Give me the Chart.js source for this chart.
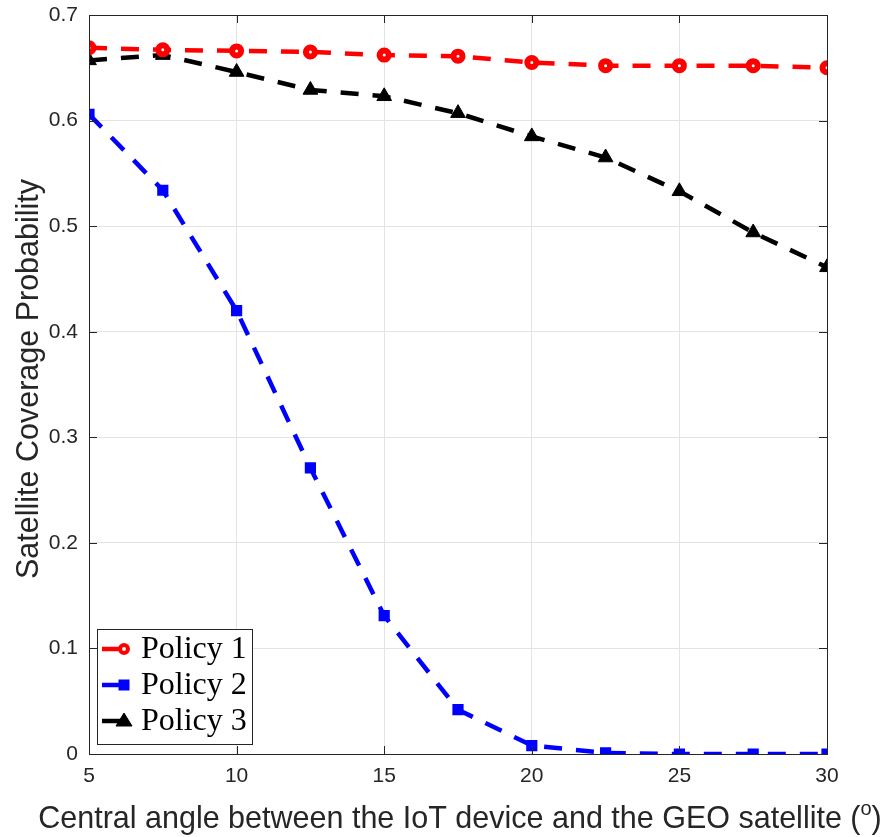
<!DOCTYPE html>
<html>
<head>
<meta charset="utf-8">
<script src="https://cdn.jsdelivr.net/npm/chart.js@4"></script>
<style>
  html, body { margin: 0; padding: 0; background: #fff; }
  #wrap { width: 889px; height: 837px; }
</style>
</head>
<body>
<div id="wrap"><canvas id="covChart" width="889" height="837"></canvas></div>
<script>
const angles = [5, 7.5, 10, 12.5, 15, 17.5, 20, 22.5, 25, 27.5, 30];
const policy1 = [0.669, 0.667, 0.666, 0.665, 0.662, 0.661, 0.655, 0.652, 0.652, 0.652, 0.650];
const policy2 = [0.606, 0.534, 0.420, 0.271, 0.131, 0.042, 0.008, 0.001, 0.000, 0.000, 0.000];
const policy3 = [0.657, 0.662, 0.646, 0.629, 0.623, 0.607, 0.585, 0.565, 0.533, 0.494, 0.461];
const xTicks = [5, 10, 15, 20, 25, 30];
const yTicks = [0, 0.1, 0.2, 0.3, 0.4, 0.5, 0.6, 0.7];
const seriesNames = ['Policy 1', 'Policy 2', 'Policy 3'];
const xTitle = 'Central angle between the IoT device and the GEO satellite (';
const yTitle = 'Satellite Coverage Probability';

const sansFont = 'Arial, "Liberation Sans", sans-serif';

function pts(ys) { return angles.map((a, i) => ({ x: a, y: ys[i] })); }

// box, inward ticks, axis titles and legend (MATLAB look)
const framePlugin = {
    id: 'frame',
    afterDatasetsDraw(chart) {
        const { ctx, chartArea: a, scales } = chart;
        ctx.save();
        ctx.strokeStyle = '#262626';
        ctx.lineWidth = 1;
        ctx.strokeRect(a.left + 0.5, a.top + 0.5, a.right - a.left, a.bottom - a.top);
        const len = 8;
        ctx.beginPath();
        xTicks.forEach(v => {
            const px = Math.round(scales.x.getPixelForValue(v)) + 0.5;
            ctx.moveTo(px, a.bottom); ctx.lineTo(px, a.bottom - len);
            ctx.moveTo(px, a.top); ctx.lineTo(px, a.top + len);
        });
        yTicks.forEach(v => {
            const py = Math.round(scales.y.getPixelForValue(v)) + 0.5;
            ctx.moveTo(a.left, py); ctx.lineTo(a.left + len, py);
            ctx.moveTo(a.right, py); ctx.lineTo(a.right - len, py);
        });
        ctx.stroke();

        // axis titles
        const big = '30.5px ' + sansFont, small = '20px ' + sansFont;
        ctx.fillStyle = '#262626';
        ctx.textBaseline = 'middle';
        ctx.font = big;
        const w1 = ctx.measureText(xTitle).width;
        const wp = ctx.measureText(')').width;
        ctx.font = small;
        const wo = ctx.measureText('o').width;
        let tx = 460 - (w1 + wo + wp) / 2;
        const ty = 820;
        ctx.textAlign = 'left';
        ctx.font = big;
        ctx.fillText(xTitle, tx, ty);
        tx += w1;
        ctx.font = small;
        ctx.fillText('o', tx, ty - 11);
        tx += wo;
        ctx.font = big;
        ctx.fillText(')', tx, ty);

        ctx.save();
        ctx.translate(30, 379);
        ctx.rotate(-Math.PI / 2);
        ctx.textAlign = 'center';
        ctx.fillText(yTitle, 0, 0);
        ctx.restore();

        // legend
        const lx = a.left + 8, ly = a.bottom - 125, lw = 155, lh = 115;
        ctx.fillStyle = '#fff';
        ctx.fillRect(lx, ly, lw, lh);
        ctx.strokeStyle = '#262626';
        ctx.lineWidth = 1;
        ctx.strokeRect(lx + 0.5, ly + 0.5, lw, lh);
        ctx.textAlign = 'left';
        ctx.font = '32px "Liberation Serif", "DejaVu Serif", serif';
        chart.data.datasets.forEach((ds, i) => {
            const cy = ly + 20 + i * 36;
            ctx.strokeStyle = ds.borderColor;
            ctx.lineWidth = 4.5;
            ctx.beginPath();
            ctx.moveTo(lx + 5, cy); ctx.lineTo(lx + 26, cy);
            ctx.stroke();
            ctx.fillStyle = ds.pointBackgroundColor;
            const mx = lx + 27;
            ctx.beginPath();
            if (ds.pointStyle === 'circle') {
                ctx.lineWidth = 4;
                ctx.arc(mx, cy, 4, 0, Math.PI * 2);
            } else if (ds.pointStyle === 'rect') {
                ctx.lineWidth = 2;
                ctx.rect(mx - 4.5, cy - 4.5, 9, 9);
            } else {
                ctx.lineWidth = 1;
                ctx.moveTo(mx, cy - 8); ctx.lineTo(mx + 8, cy + 5); ctx.lineTo(mx - 8, cy + 5); ctx.closePath();
            }
            ctx.fill(); ctx.stroke();
            ctx.fillStyle = '#000';
            ctx.fillText(ds.label, lx + 44, cy + 1);
        });
        ctx.restore();
    }
};

new Chart(document.getElementById('covChart').getContext('2d'), {
    type: 'line',
    data: {
        datasets: [{
            label: seriesNames[0],
            data: pts(policy1),
            borderColor: '#ff0000',
            pointBackgroundColor: '#ffffff',
            pointBorderColor: '#ff0000',
            pointStyle: 'circle',
            pointRadius: 4.5,
            pointBorderWidth: 6,
            borderWidth: 4.5,
            borderDash: [18, 14]
        }, {
            label: seriesNames[1],
            data: pts(policy2),
            borderColor: '#0000ff',
            pointBackgroundColor: '#0000ff',
            pointBorderColor: '#0000ff',
            pointStyle: 'rect',
            pointRadius: 6.5,
            pointBorderWidth: 2,
            borderWidth: 4.5,
            borderDash: [18, 14]
        }, {
            label: seriesNames[2],
            data: pts(policy3),
            borderColor: '#000000',
            pointBackgroundColor: '#000000',
            pointBorderColor: '#000000',
            pointStyle: 'triangle',
            pointRadius: 8.5,
            pointBorderWidth: 1,
            borderWidth: 4.5,
            borderDash: [18, 14]
        }]
    },
    options: {
        responsive: false,
        animation: false,
        layout: { padding: { top: 15, right: 62, left: 0, bottom: 0 } },
        plugins: { legend: { display: false }, tooltip: { enabled: false } },
        scales: {
            x: {
                type: 'linear',
                min: 5, max: 30,
                afterBuildTicks: s => { s.ticks = xTicks.map(v => ({ value: v })); },
                afterFit: s => { s.height = 83; s.paddingLeft = 0; s.paddingRight = 0; },
                grid: { color: '#e3e3e3', drawTicks: false },
                border: { display: false },
                ticks: { color: '#262626', padding: 10, font: { family: sansFont, size: 21 } }
            },
            y: {
                min: 0, max: 0.7,
                afterBuildTicks: s => { s.ticks = yTicks.map(v => ({ value: v })); },
                afterFit: s => { s.width = 89; s.paddingTop = 0; s.paddingBottom = 0; },
                grid: { color: '#e3e3e3', drawTicks: false },
                border: { display: false },
                ticks: {
                    color: '#262626', padding: 11,
                    font: { family: sansFont, size: 21 },
                    callback: v => String(Math.round(v * 10) / 10)
                }
            }
        }
    },
    plugins: [framePlugin]
});
</script>
</body>
</html>
